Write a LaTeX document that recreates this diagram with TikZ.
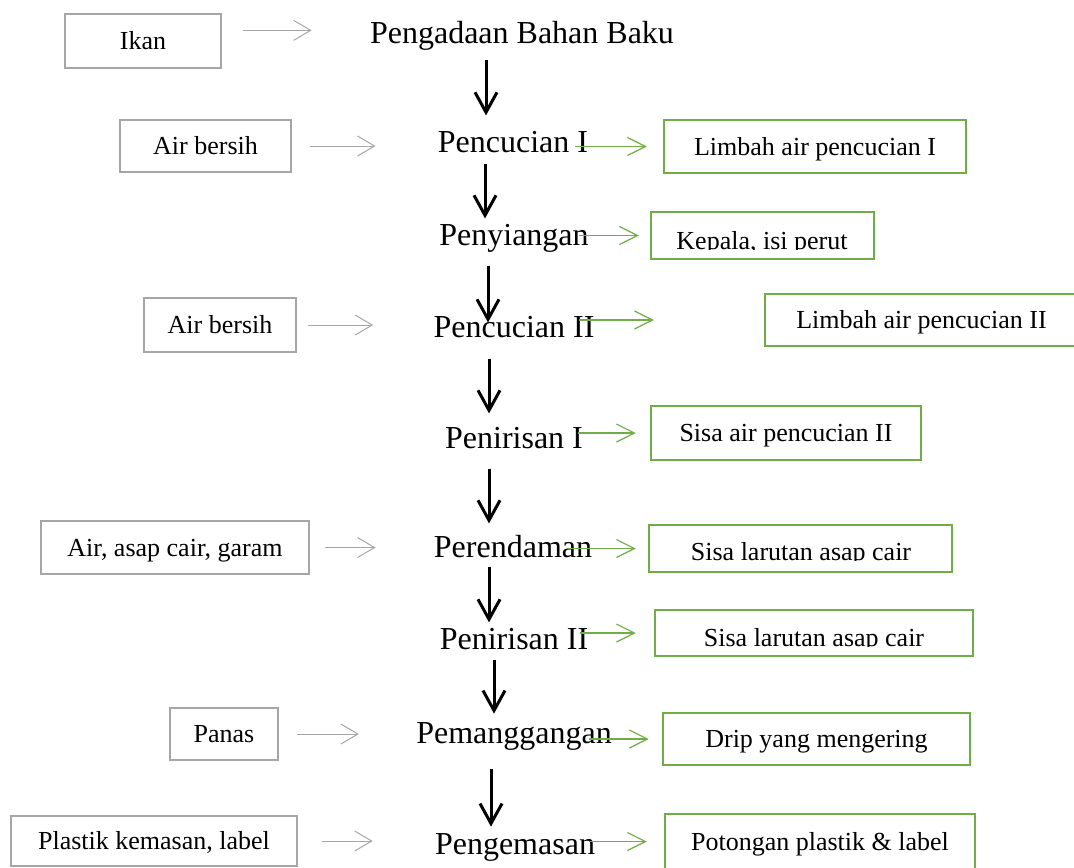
\documentclass[tikz,border=0pt]{standalone}
\usepackage{fontspec}
\setmainfont{Liberation Serif}
\usetikzlibrary{arrows.meta}
\definecolor{hijau}{RGB}{112,173,71}
\definecolor{abu}{RGB}{166,166,166}

\begin{document}
\begin{tikzpicture}[x=0.5pt,y=-0.5pt,
	proses/.style={font=\fontsize{16pt}{19pt}\selectfont, inner sep=0pt, anchor=base},
	bahan/.style={draw=abu, line width=1.25pt, font=\fontsize{13pt}{15pt}\selectfont, inner sep=0pt, text height=8.6pt, text depth=0pt},
	limbah/.style={draw=hijau, line width=1.25pt, font=\fontsize{13pt}{15pt}\selectfont, inner sep=0pt, text height=8.6pt, text depth=0pt},
	limbahteks/.style={font=\fontsize{13pt}{15pt}\selectfont, inner sep=0pt, anchor=base},
	alur/.style={line width=1.5pt, -{Straight Barb[length=10pt,width=11pt]}},
	masuk/.style={abu, line width=0.5pt, -{Straight Barb[length=8.5pt,width=10pt]}},
	keluar/.style={hijau, line width=0.6pt, -{Straight Barb[length=9pt,width=9pt]}}]

	\useasboundingbox (0,0) rectangle (1074,867);

% 1. Tahap proses (tengah)
\node[proses] (pengadaan) at (522,43) {Pengadaan Bahan Baku};
\node[proses] (pencucianI) at (513,152) {Pencucian I};
\node[proses] (penyiangan) at (514,245) {Penyiangan};
\node[proses] (pencucianII) at (514,337) {Pencucian II};
\node[proses] (penirisanI) at (514,448) {Penirisan I};
\node[proses] (perendaman) at (513,557) {Perendaman};
\node[proses] (penirisanII) at (514,649) {Penirisan II};
\node[proses] (pemanggangan) at (514,743) {Pemanggangan};
\node[proses] (pengemasan) at (515,854) {Pengemasan};

% 2. Bahan masuk (kiri)
\node[bahan, minimum width=78pt, minimum height=27pt] (ikan) at (143,41) {Ikan};
\node[bahan, minimum width=85.5pt, minimum height=26pt] (airA) at (205.5,146) {Air bersih};
\node[bahan, minimum width=76pt, minimum height=27pt] (airB) at (220,325) {Air bersih};
\node[bahan, minimum width=134pt, minimum height=26.5pt] (larutan) at (175,547.5) {Air, asap cair, garam};
\node[bahan, minimum width=54pt, minimum height=26pt] (panas) at (224,734) {Panas};
\node[bahan, minimum width=143pt, minimum height=25pt] (plastik) at (154,841) {Plastik kemasan, label};

% 3. Limbah keluar (kanan)
\node[limbah, minimum width=151pt, minimum height=26.5pt] (limbahI) at (815,146.5) {Limbah air pencucian I};
\node[limbah, minimum width=111.5pt, minimum height=23.5pt] (kepala) at (762.5,235.5) {};
\begin{scope}
	\clip (kepala.north west) rectangle (kepala.east |- 0,249);
	\node[limbahteks] (kepalateks) at (762,249) {Kepala, isi perut};
\end{scope}
\node[limbah, minimum width=156.5pt, minimum height=26pt] (limbahII) at (921.5,320) {Limbah air pencucian II};
\node[limbah, minimum width=135pt, minimum height=27pt] (sisaair) at (786,433) {Sisa air pencucian II};
\node[limbah, minimum width=151.5pt, minimum height=23.5pt] (sisaA) at (800.5,548.5) {};
\begin{scope}
	\clip (sisaA.north west) rectangle (sisaA.east |- 0,560);
	\node[limbahteks] (sisaAteks) at (801,560) {Sisa larutan asap cair};
\end{scope}
\node[limbah, minimum width=159pt, minimum height=23pt] (sisaB) at (814,633) {};
\begin{scope}
	\clip (sisaB.north west) rectangle (sisaB.east |- 0,646);
	\node[limbahteks] (sisaBteks) at (814,646) {Sisa larutan asap cair};
\end{scope}
\node[limbah, minimum width=153.5pt, minimum height=26pt] (drip) at (816.5,739) {Drip yang mengering};
\node[limbah, minimum width=155pt, minimum height=27.5pt] (potongan) at (820,841.5) {Potongan plastik \& label};

% 4. Panah alur utama
		\foreach \dari/\ke/\x/\a/\b in {pengadaan/pencucianI/486/5/7.5, pencucianI/penyiangan/485/5.5/2.5,
			penyiangan/pencucianII/488/7/-3.5, pencucianII/penirisanI/489/10.5/6.5,
			penirisanI/perendaman/489/10/5.5, perendaman/penirisanII/489/4.5/2.5,
			penirisanII/pemanggangan/494/5/4, pemanggangan/pengemasan/491/9.5/3} {
			\draw[alur, shorten <=\a pt, shorten >=\b pt] (\x,0 |- \dari.south) -- (\x,0 |- \ke.north);
		}

% 5. Panah bahan masuk
		\draw[masuk] ([xshift=10.5pt,yshift=2.5pt]ikan.east |- pengadaan) -- ([xshift=-29pt,yshift=2.5pt]pengadaan.west);
		\foreach \b/\p/\a/\c in {airA/pencucianI/9/31, airB/pencucianII/5.5/30, larutan/perendaman/7.5/29,
			panas/pemanggangan/9/28.5, plastik/pengemasan/12/31} {
			\draw[masuk] ([xshift=\a pt]\b.east) -- ([xshift=-\c pt]\p.west |- \b.east);
		}

% 6. Panah limbah keluar
		\foreach \p/\k/\a/\c in {pencucianI/limbahI/6.5/8, penyiangan/kepala/5/5.5, pencucianII/limbahII/8/55,
			penirisanI/sisaair/2.5/7, perendaman/sisaA/12/6, penirisanII/sisaB/4.5/9,
			pemanggangan/drip/11.5/6.5, pengemasan/potongan/2.5/8.5} {
			\draw[keluar] ([xshift=-\a pt]\p.east |- \k.west) -- ([xshift=-\c pt]\k.west);
		}
	\end{tikzpicture}
\end{document}
